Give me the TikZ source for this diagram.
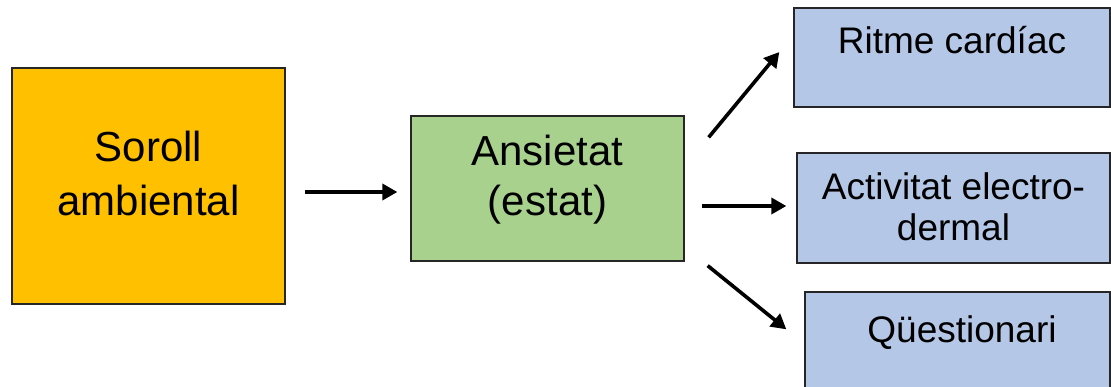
\documentclass[tikz,border=0pt]{standalone}
\usepackage{fontspec}
\setmainfont{Liberation Sans}
\usetikzlibrary{arrows.meta,calc}
\definecolor{noiseorange}{HTML}{FFC000}
\definecolor{stategreen}{HTML}{A9D18E}
\definecolor{measureblue}{HTML}{B4C7E7}
\tikzset{
  box/.style={draw=black!85, line width=1.3pt, inner sep=0pt, rectangle},
  bigtext/.style={anchor=base, inner sep=0pt, font=\fontsize{42}{50}\selectfont},
  smalltext/.style={anchor=base, inner sep=0pt, font=\fontsize{37}{44}\selectfont},
  flow/.style={line width=3.6pt, -{Triangle[length=15pt,width=16pt]}}
}
\begin{document}
\begin{tikzpicture}[x=1pt,y=-1pt]
\useasboundingbox (0,0) rectangle (1111,387);
\clip (0,0) rectangle (1111,387);
% boxes
\node[box, fill=noiseorange, minimum width=273pt, minimum height=236pt] (b1) at (148.5,186) {};
\node[box, fill=stategreen, minimum width=273pt, minimum height=145pt] (b2) at (547.5,188.5) {};
\node[box, fill=measureblue, minimum width=316pt, minimum height=99pt] (b3) at (952,57.5) {};
\node[box, fill=measureblue, minimum width=313pt, minimum height=110pt] (b4) at (953.5,208) {};
\node[box, fill=measureblue, minimum width=305pt, minimum height=108pt] (b5) at (957.5,346) {};
% labels
\node[bigtext] (t1a) at (148.5,162) {Soroll};
\node[bigtext] (t1b) at (148.5,216) {ambiental};
\node[bigtext] (t2a) at (547.5,166) {Ansietat};
\node[bigtext] (t2b) at (547.5,216) {(estat)};
\node[smalltext] (t3) at (952,54) {Ritme cardíac};
\node[smalltext] (t4a) at (953.5,200) {Activitat electro-};
\node[smalltext] (t4b) at (953.5,241) {dermal};
\node[smalltext] (t5) at (962,342) {Qüestionari};
% connectors
\draw[flow] ($(b1.east)+(19,6)$) -- ($(b2.west)+(-13,3.5)$);
\draw[flow] ($(b2.north east)+(24,22)$) -- ($(b3.west)+(-14,-5.5)$);
\draw[flow] ($(b2.east)+(17,17.5)$) -- ($(b4.west)+(-10,-2)$);
\draw[flow] ($(b2.south east)+(23,4)$) -- ($(b5.north west)+(-18,38)$);
\end{tikzpicture}
\end{document}
